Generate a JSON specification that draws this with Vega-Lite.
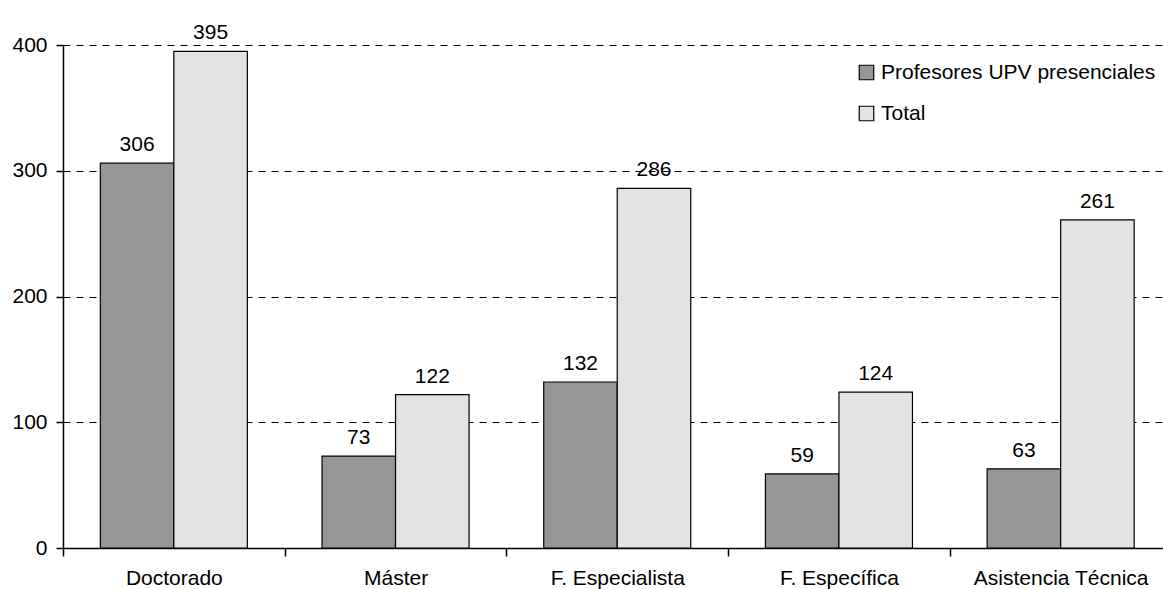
{
  "$schema": "https://vega.github.io/schema/vega-lite/v6.json",
  "width": 1100,
  "height": 503,
  "autosize": "none",
  "padding": {"left": 63, "top": 45, "right": 0, "bottom": 41},
  "background": "white",
  "config": {
    "view": {"stroke": null},
    "font": "Liberation Sans",
    "axis": {"labelFont": "Liberation Sans", "labelColor": "black", "labelFontSize": 21}
  },
  "data": {
    "values": [
      {"categoria": "Doctorado", "serie": "Profesores UPV presenciales", "valor": 306},
      {"categoria": "Doctorado", "serie": "Total", "valor": 395},
      {"categoria": "Máster", "serie": "Profesores UPV presenciales", "valor": 73},
      {"categoria": "Máster", "serie": "Total", "valor": 122},
      {"categoria": "F. Especialista", "serie": "Profesores UPV presenciales", "valor": 132},
      {"categoria": "F. Especialista", "serie": "Total", "valor": 286},
      {"categoria": "F. Específica", "serie": "Profesores UPV presenciales", "valor": 59},
      {"categoria": "F. Específica", "serie": "Total", "valor": 124},
      {"categoria": "Asistencia Técnica", "serie": "Profesores UPV presenciales", "valor": 63},
      {"categoria": "Asistencia Técnica", "serie": "Total", "valor": 261}
    ]
  },
  "encoding": {
    "x": {
      "field": "categoria",
      "type": "nominal",
      "sort": null,
      "title": null,
      "scale": {"range": [0, 1108.5], "paddingInner": 0, "paddingOuter": 0},
      "axis": {
        "labelAngle": 0,
        "domainColor": "black",
        "domainWidth": 1.5,
        "tickColor": "black",
        "tickWidth": 1.5,
        "tickSize": 8,
        "tickBand": "extent",
        "labelPadding": 11,
        "grid": false
      }
    },
    "xOffset": {
      "field": "serie",
      "type": "nominal",
      "scale": {"domain": ["Profesores UPV presenciales", "Total"], "paddingInner": 0, "paddingOuter": 0.508}
    },
    "y": {
      "field": "valor",
      "type": "quantitative",
      "title": null,
      "scale": {"domain": [0, 400], "nice": false},
      "axis": {
        "values": [0, 100, 200, 300, 400],
        "domainColor": "black",
        "domainWidth": 1.5,
        "tickColor": "black",
        "tickWidth": 1.5,
        "tickSize": 7,
        "labelPadding": 9,
        "grid": true,
        "gridColor": "black",
        "gridDash": [7, 6],
        "gridWidth": 1,
        "gridOpacity": 1
      }
    }
  },
  "layer": [
    {
      "mark": {"type": "bar", "stroke": "black", "strokeWidth": 1.2},
      "encoding": {
        "color": {
          "field": "serie",
          "type": "nominal",
          "scale": {"domain": ["Profesores UPV presenciales", "Total"], "range": ["#969696", "#e3e3e3"]},
          "legend": {
            "title": null,
            "orient": "none",
            "legendX": 793,
            "legendY": 17,
            "symbolType": "square",
            "symbolSize": 210,
            "symbolStrokeColor": "black",
            "symbolStrokeWidth": 1.2,
            "labelFontSize": 21,
            "labelFont": "Liberation Sans",
            "labelColor": "black",
            "labelLimit": 0,
            "labelOffset": 4,
            "rowPadding": 19
          }
        }
      }
    },
    {
      "mark": {"type": "text", "dy": -12, "baseline": "alphabetic", "fontSize": 21, "font": "Liberation Sans", "color": "black"},
      "encoding": {
        "text": {"field": "valor", "type": "quantitative"}
      }
    }
  ]
}
